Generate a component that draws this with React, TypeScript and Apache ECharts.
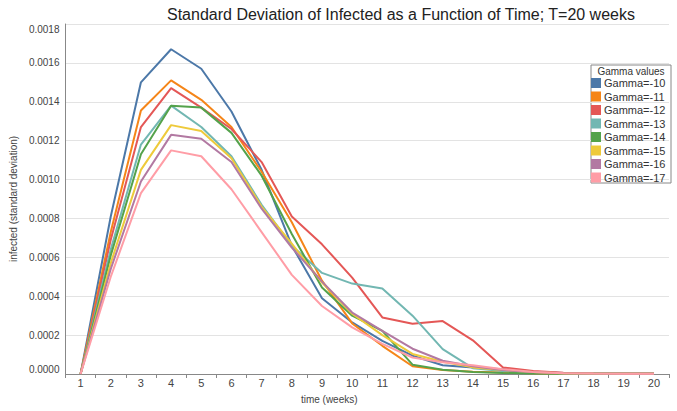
import React, { useEffect, useRef } from "react";
import * as echarts from "echarts";

const weeks = ["1","2","3","4","5","6","7","8","9","10","11","12","13","14","15","16","17","18","19","20"];
const seriesNames = ["Gamma=-10","Gamma=-11","Gamma=-12","Gamma=-13","Gamma=-14","Gamma=-15","Gamma=-16","Gamma=-17"];
const colors = ["#4c78a8","#f58518","#e45756","#72b7b2","#54a24b","#eeca3b","#b279a2","#ff9da6"];

const g10 = [0, 0.00081, 0.00150, 0.00167, 0.00157, 0.00135, 0.00105, 0.00066, 0.00039, 0.000265, 0.00017, 0.000094, 0.000045, 0.000034, 0.000025, 0.000012, 0.000005, 0.000002, 0.000002, 0.000002];
const g11 = [0, 0.00073, 0.001355, 0.00151, 0.00141, 0.00127, 0.00104, 0.00078, 0.00048, 0.00026, 0.000145, 0.00004, 0.00002, 0.000012, 0.000008, 0.000004, 0.000001, 0.000001, 0.000001, 0.000001];
const g12 = [0, 0.00069, 0.00127, 0.00147, 0.00137, 0.00126, 0.00109, 0.00081, 0.000667, 0.000496, 0.000291, 0.000258, 0.000272, 0.000173, 0.000034, 0.000015, 0.000006, 0.000003, 0.000001, 0.000001];
const g13 = [0, 0.00064, 0.00118, 0.00138, 0.00127, 0.00112, 0.00087, 0.00066, 0.00052, 0.000465, 0.00044, 0.0003, 0.000128, 0.00003, 0.000015, 0.000007, 0.000003, 0.000001, 0.000001, 0.000001];
const g14 = [0, 0.00061, 0.00113, 0.00138, 0.00137, 0.00124, 0.00102, 0.00072, 0.000445, 0.0003, 0.000222, 0.000048, 0.000022, 0.00001, 0.000005, 0.000002, 0.000001, 0.000001, 0.000001, 0.000001];
const g15 = [0, 0.00057, 0.00105, 0.00128, 0.00125, 0.00111, 0.00086, 0.00067, 0.00047, 0.00031, 0.0002, 0.000103, 0.000063, 0.000034, 0.00002, 0.00001, 0.000004, 0.000002, 0.000001, 0.000001];
const g16 = [0, 0.00054, 0.00099, 0.00123, 0.00121, 0.00109, 0.00085, 0.00065, 0.000475, 0.000316, 0.000222, 0.00013, 0.000068, 0.00004, 0.00002, 0.00001, 0.000004, 0.000002, 0.000001, 0.000001];
const g17 = [0, 0.0005, 0.00093, 0.00115, 0.00112, 0.00095, 0.00073, 0.00051, 0.00035, 0.00024, 0.000155, 0.000085, 0.00006, 0.000045, 0.000025, 0.00001, 0.000004, 0.000002, 0.000001, 0.000001];
const allData = [g10, g11, g12, g13, g14, g15, g16, g17];

const yTicks = { min: 0, max: 0.0018, interval: 0.0002 };

export default function App() {
  const ref = useRef<HTMLDivElement>(null);
  useEffect(() => {
    if (!ref.current) return;
    const chart = echarts.init(ref.current, undefined, { renderer: "svg" });
    const font = "Liberation Sans, Arial, sans-serif";
    chart.setOption({
      animation: false,
      textStyle: { fontFamily: font },
      title: {
        text: "Standard Deviation of Infected as a Function of Time; T=20 weeks",
        left: 162,
        top: 1,
        textStyle: { fontSize: 16, fontWeight: "normal", color: "#222", fontFamily: font },
      },
      grid: { left: 49, right: 8, top: 24, bottom: 37, containLabel: false },
      legend: {
        orient: "vertical",
        left: 591,
        top: 77.5,
        padding: 0,
        itemWidth: 10,
        itemHeight: 10,
        itemGap: 2.5,
        icon: "rect",
        data: seriesNames,
        textStyle: { fontSize: 11, color: "#333", fontFamily: font, padding: [0, 0, 0, -2] },
      },
      graphic: [
        {
          type: "rect",
          z: 0,
          shape: { x: 591, y: 65, width: 80, height: 118 },
          style: { fill: "#fff", stroke: "#888", lineWidth: 1 },
        },
        {
          type: "text",
          z: 1,
          x: 631,
          y: 71,
          style: { text: "Gamma values", fontSize: 10, fill: "#333", align: "center", verticalAlign: "middle", fontFamily: font },
        },
      ],
      xAxis: {
        type: "category",
        data: weeks,
        boundaryGap: true,
        name: "time (weeks)",
        nameLocation: "middle",
        nameGap: 20,
        nameTextStyle: { fontSize: 10, color: "#444", padding: [0, 76, 0, 0] },
        axisLine: { lineStyle: { color: "#888" } },
        axisTick: { show: true, length: 4, lineStyle: { color: "#888" } },
        axisLabel: { fontSize: 11, color: "#444", margin: 3 },
        splitLine: { show: false },
      },
      yAxis: {
        type: "value",
        min: yTicks.min,
        max: yTicks.max,
        interval: yTicks.interval,
        name: "infected (standard deviation)",
        nameLocation: "middle",
        nameGap: 41,
        nameTextStyle: { fontSize: 10, color: "#444" },
        axisLine: { show: true, lineStyle: { color: "#888" } },
        axisTick: { show: false },
        axisLabel: {
          fontSize: 10,
          color: "#444",
          margin: 6,
          formatter: (v: number) => v.toFixed(4),
          verticalAlignMaxLabel: "top",
          verticalAlignMinLabel: "bottom",
        },
        splitLine: { lineStyle: { color: "#e3e3e3" } },
      },
      series: allData.map((d, i) => ({
        name: seriesNames[i],
        type: "line",
        data: d,
        symbol: "none",
        color: colors[i],
        lineStyle: { width: 2, color: colors[i] },
      })),
    });
    return () => chart.dispose();
  }, []);
  return <div ref={ref} style={{ position: "absolute", left: 0, top: 0, width: 677, height: 411 }} />;
}
